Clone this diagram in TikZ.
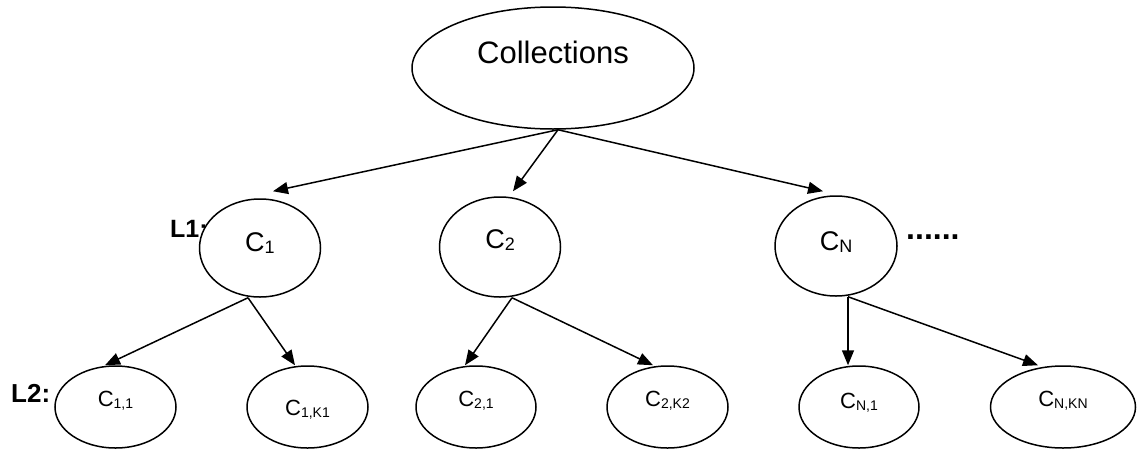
\documentclass[tikz,border=0pt]{standalone}
\usepackage{fontspec}
\setmainfont{Liberation Sans}
\usetikzlibrary{shapes.geometric,arrows.meta}
\newcommand{\Csub}[2]{C\raisebox{-0.1em}{\fontsize{#1}{#1}\selectfont #2}}
\begin{document}
\begin{tikzpicture}[x=1pt,y=-1pt,
  ell/.style={draw, ellipse, line width=1.5pt, fill=white, inner sep=0pt},
  topell/.style={ell, minimum width=282pt, minimum height=122pt},
  midell/.style={ell, minimum width=121pt, minimum height=98pt},
  lowell/.style={ell, minimum width=121pt, minimum height=82pt},
  bigtxt/.style={font=\fontsize{31}{31}\selectfont, inner sep=0pt},
  midtxt/.style={font=\fontsize{27}{27}\selectfont, inner sep=0pt, yshift=5pt},
  lowtxt/.style={font=\fontsize{22}{22}\selectfont, inner sep=0pt, yshift=6pt},
  lvl/.style={font=\bfseries\fontsize{25}{25}\selectfont, inner sep=0pt},
  arr/.style={-{Triangle[length=15pt,width=12pt]}, line width=1.5pt},
]
\useasboundingbox (0,0) rectangle (1139,450);
% level labels (drawn first, ellipses cover the colon of L1)
\node[lvl, anchor=west] (l1) at (170,229) {L1:};
\node[lvl, font=\bfseries\fontsize{26}{26}\selectfont, anchor=west] (l2) at (11,393) {L2:};
% root
\node[topell, label={[bigtxt,yshift=16pt]center:Collections}] (coll) at (553,68) {};
% level 1
\node[midell, label={[midtxt]center:\Csub{18}{1}}] (c1) at (260,248) {};
\node[midell, minimum height=100pt, label={[midtxt,yshift=2pt]center:\Csub{18}{2}}] (c2) at (500,247) {};
\node[midell, minimum width=122pt, minimum height=100pt, label={[midtxt,yshift=-1pt]center:\Csub{18}{N}}] (cn) at (836,246) {};
\node[font=\bfseries\fontsize{32}{32}\selectfont, anchor=base west, inner sep=0pt] (dots) at (906,239) {......};
% level 2
\node[lowell, label={[lowtxt]center:\Csub{14}{1,1}}] (c11) at (115.5,407) {};
\node[lowell, label={[lowtxt,yshift=-9pt]center:\Csub{14}{1,K1}}] (c1k) at (307.5,407) {};
\node[lowell, minimum width=120pt, label={[lowtxt]center:\Csub{14}{2,1}}] (c21) at (476,407) {};
\node[lowell, label={[lowtxt]center:\Csub{14}{2,K2}}] (c2k) at (667.5,407) {};
\node[lowell, minimum width=120pt, label={[lowtxt,yshift=-2pt]center:\Csub{14}{N,1}}] (cn1) at (859,407) {};
\node[lowell, minimum width=145pt, label={[lowtxt]center:\Csub{14}{N,KN}}] (cnk) at (1063,407) {};
% connectors
\draw[arr] ([xshift=5pt]coll.south) -- ([xshift=13pt,yshift=7pt]c1.north);
\draw[arr] ([xshift=5pt]coll.south) -- ([xshift=13pt,yshift=5pt]c2.north);
\draw[arr] ([xshift=5pt]coll.south) -- ([xshift=-13pt,yshift=4pt]cn.north);
\draw[arr] ([xshift=-12pt]c1.south) -- ([xshift=-10.5pt]c11.north);
\draw[arr] ([xshift=-12pt]c1.south) -- ([xshift=-12.5pt]c1k.north);
\draw[arr] ([xshift=12pt]c2.south) -- ([xshift=-11pt]c21.north);
\draw[arr] ([xshift=12pt]c2.south) -- ([xshift=-14.5pt]c2k.north);
\draw[arr] ([xshift=12pt]cn.south) -- ([xshift=-11pt]cn1.north);
\draw[arr] ([xshift=12pt]cn.south) -- ([xshift=-25pt]cnk.north);
\end{tikzpicture}
\end{document}
